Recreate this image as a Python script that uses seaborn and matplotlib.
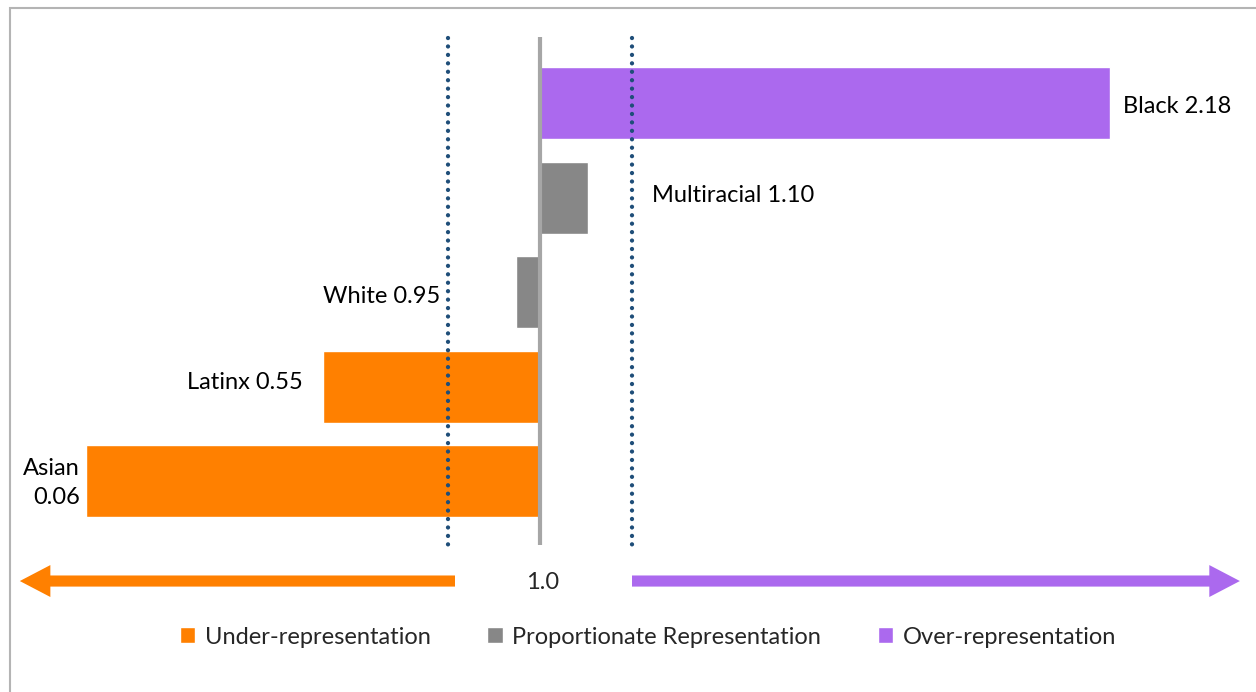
import pandas as pd
import seaborn as sns
import matplotlib.pyplot as plt
from matplotlib.patches import Rectangle

# data
groups = ["Black", "Multiracial", "White", "Latinx", "Asian"]
ratios = [2.18, 1.10, 0.95, 0.55, 0.06]
levels = ["Over-representation", "Proportionate Representation",
          "Proportionate Representation", "Under-representation",
          "Under-representation"]
level_order = ["Under-representation", "Proportionate Representation", "Over-representation"]
level_colors = ["#FF8000", "#878787", "#AB69EE"]
parity = 1.0
band = [0.81, 1.19]

df = pd.DataFrame({"group": groups, "ratio": ratios, "level": levels})
df["dev"] = df["ratio"] - parity

sns.set_theme(style="white")
plt.rcParams["font.family"] = ["Lato", "DejaVu Sans"]

fig = plt.figure(figsize=(12.56, 6.92), dpi=100)
ax = fig.add_axes([0, 0, 1, 1])

sns.barplot(data=df, x="dev", y="group", hue="level", hue_order=level_order,
            palette=dict(zip(level_order, level_colors)), order=groups,
            dodge=False, width=0.76, saturation=1, orient="h", ax=ax)

# pixel-matched view: 483 px per unit, parity at x=540
ax.set_xlim(-540 / 483, 716 / 483)
ax.set_ylim(6.226, -1.089)
ax.axis("off")

# parity line and band lines
ax.plot([0, 0], [-0.698, 4.672], color="#A6A6A6", lw=3, solid_capstyle="butt", zorder=3)
for b in band:
    ax.plot([b - parity, b - parity], [-0.687, 4.704], color="#1F4E79", lw=3.1,
            linestyle=(0, (0.01, 1.95)), dash_capstyle="round", zorder=3)

# labels
fs = 17
lab_kw = dict(fontsize=fs, color="black", va="center", textcoords="offset pixels")
ax.annotate(f"Black {ratios[0]:.2f}", (df.dev[0], 0.04), xytext=(13, 0), ha="left", **lab_kw)
ax.annotate(f"Multiracial {ratios[1]:.2f}", (band[1] - parity, 0.98), xytext=(20, 0), ha="left", **lab_kw)
ax.annotate(f"White {ratios[2]:.2f}", (band[0] - parity, 2.04), xytext=(-8, 0), ha="right", **lab_kw)
ax.annotate(f"Latinx {ratios[3]:.2f}", (df.dev[3], 2.95), xytext=(-20, 0), ha="right", **lab_kw)
ax.annotate(f"Asian\n{ratios[4]:.2f}", (df.dev[4], 4.02), xytext=(-6, 0), ha="right",
            linespacing=1.45, **lab_kw)

# direction arrows
arrow_y = 5.053
style = "simple,head_length=2.2,head_width=2.3,tail_width=0.8"
ax.annotate("", xy=(-1.077, arrow_y), xytext=(-0.176, arrow_y),
            arrowprops=dict(arrowstyle=style, mutation_scale=10, color="#FF8000",
                            shrinkA=0, shrinkB=0, lw=0))
ax.annotate("", xy=(1.449, arrow_y), xytext=(0.1905, arrow_y),
            arrowprops=dict(arrowstyle=style, mutation_scale=10, color="#AB69EE",
                            shrinkA=0, shrinkB=0, lw=0))
ax.text(0.006, arrow_y + 0.02, f"{parity:.1f}", ha="center", va="center", fontsize=fs)

# legend
sns.move_legend(ax, "center", bbox_to_anchor=(648 / 1256, 1 - 637 / 692), ncol=3,
                frameon=False, title=None, fontsize=fs, handlelength=0.65,
                handleheight=0.65, handletextpad=0.4, columnspacing=2.4)

# chart frame
fig.patches.append(Rectangle((10 / 1256, -0.1), 1.1, 1 - 8 / 692 + 0.1, transform=fig.transFigure,
                             fill=False, edgecolor="#B4B4B4", lw=1.5, zorder=0))

fig.savefig("out.png", dpi=100)
